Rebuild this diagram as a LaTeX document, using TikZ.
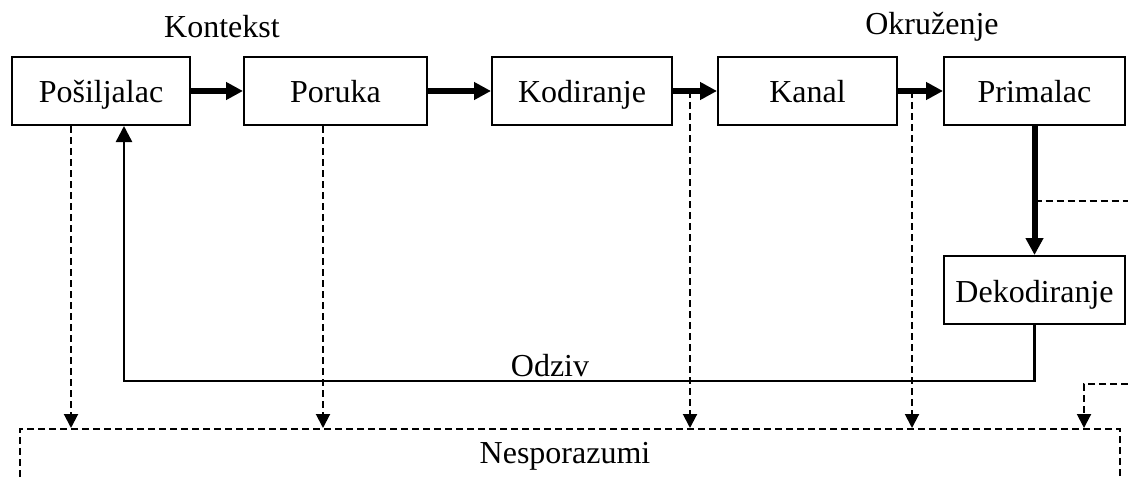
\documentclass[tikz,border=0pt]{standalone}
\usepackage{fontspec}
\setmainfont{Liberation Serif}
\usetikzlibrary{arrows.meta}
\begin{document}
\begin{tikzpicture}[x=0.5pt,y=-0.5pt,
  font=\fontsize{16pt}{19pt}\selectfont,
  box/.style={draw, line width=1pt, minimum width=#1*0.5pt, minimum height=34pt,
    inner sep=0pt, text height=16pt, text depth=4pt},
  flow/.style={line width=3pt, -{Triangle[length=8.5pt,width=8.5pt]}},
  dasharrow/.style={line width=1pt, dash pattern=on 3.5pt off 2pt, -{Triangle[length=7pt,width=7pt]}},
  dashline/.style={line width=1pt, dash pattern=on 3.5pt off 2pt},
  feedback/.style={line width=1.2pt, -{Triangle[length=8pt,width=8pt]}}]
\useasboundingbox (0,0) rectangle (1128,476);

% main chain of boxes
\node[box=178] (pos) at (101,91) {Pošiljalac};
\node[box=183] (por) at (335.5,91) {Poruka};
\node[box=180] (kod) at (582,91) {Kodiranje};
\node[box=179] (kan) at (807.5,91) {Kanal};
\node[box=181] (pri) at (1034.5,91) {Primalac};
\node[box=181] (dek) at (1034.5,290) {Dekodiranje};

% surrounding labels
\node (kontekst) at (222,27) {Kontekst};
\node (okruzenje) at (932,27) {Okruženje};

% misunderstandings box, running off the bottom edge
\node[draw, dashline, minimum width=550pt, minimum height=29pt, inner sep=0pt] (nesp) at (570,458) {};
\node (nesptext) at (565,456) {Nesporazumi};

% forward flow
\draw[flow] (pos.east) -- (por.west);
\draw[flow] (por.east) -- (kod.west);
\draw[flow] (kod.east) -- (kan.west);
\draw[flow] (kan.east) -- (pri.west);
\draw[flow] (pri.south) -- (dek.north);

% feedback loop
\coordinate (fbl) at (124,381);
\draw[feedback] (dek.south) |- (fbl) -- (pos.south -| fbl);
\node (odziv) at (550,366) {Odziv};

% noise sources dropping into the misunderstandings box
\coordinate (d1) at (71,0);
\coordinate (d2) at (323,0);
\coordinate (d3) at (690,0);
\coordinate (d4) at (912,0);
\coordinate (d5) at (1084,0);
\coordinate (r1) at (1128,201);
\coordinate (r2) at (1128,384);
\draw[dasharrow] (pos.south -| d1) -- (nesp.north -| d1);
\draw[dasharrow] (por.south -| d2) -- (nesp.north -| d2);
\draw[dasharrow] (kod.east -| d3) -- (nesp.north -| d3);
\draw[dasharrow] (kan.east -| d4) -- (nesp.north -| d4);
\draw[dasharrow] (r2) -| (nesp.north -| d5);
\draw[dashline] (pri.south |- r1) -- (r1);
\end{tikzpicture}
\end{document}
